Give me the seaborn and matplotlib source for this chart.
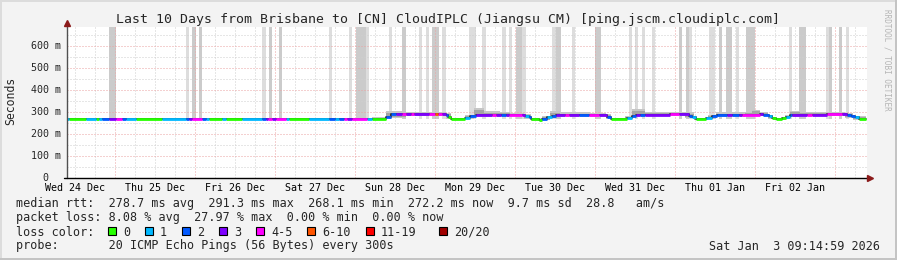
import numpy as np
import pandas as pd
import matplotlib
matplotlib.use("Agg")
import matplotlib.pyplot as plt
import seaborn as sns
from matplotlib.patches import Rectangle
from matplotlib.lines import Line2D
import matplotlib.transforms as mtransforms

# ---------------- data ----------------
title = "Last 10 Days from Brisbane to [CN] CloudIPLC (Jiangsu CM) [ping.jscm.cloudiplc.com]"
# hours since Wed 24 Dec 00:00
t_start, t_end = 9.6, 249.6
day_label_hours = [12, 36, 60, 84, 108, 132, 156, 180, 204, 228]
day_labels = ["Wed 24 Dec", "Thu 25 Dec", "Fri 26 Dec", "Sat 27 Dec", "Sun 28 Dec",
              "Mon 29 Dec", "Tue 30 Dec", "Wed 31 Dec", "Thu 01 Jan", "Fri 02 Jan"]
ytick_vals = [0, 100, 200, 300, 400, 500, 600]
ytick_labels = ["0", "100 m", "200 m", "300 m", "400 m", "500 m", "600 m"]

# median rtt segments (start hour, value in ms, loss class)
seg_start = [9.6, 10.2, 15.3, 18.3, 19.2, 20.1, 22.2, 24.3, 26.1, 27.3,
             30.3, 38.1, 45.3, 46.2, 47.1, 50.1, 51.3, 52.2, 56.1, 57.3,
             62.1, 68.1, 69.3, 69.9, 71.1, 72.3, 75.3, 76.2, 82.2, 88.2,
             90.0, 91.2, 92.7, 93.6, 95.1, 99.6, 101.1, 105.3, 106.8, 108.3,
             110.1, 111.3, 112.8, 113.7, 118.2, 120.0, 120.9, 122.1, 123.3, 123.9,
             124.8, 129.0, 130.5, 132.3, 137.1, 138.3, 139.8, 141.3, 142.2, 146.1,
             147.0, 148.2, 148.8, 151.2, 152.1, 153.6, 155.1, 156.3, 159.0, 160.2,
             163.2, 166.2, 169.2, 171.6, 172.8, 177.6, 179.1, 180.3, 181.5, 183.0,
             190.5, 193.2, 196.2, 197.1, 198.3, 201.3, 203.1, 204.6, 207.6, 209.1,
             211.2, 212.1, 217.5, 218.4, 220.2, 221.1, 222.3, 224.1, 225.3, 226.5,
             227.1, 231.6, 233.1, 237.6, 242.1, 243.6, 244.8, 246.0, 247.2]
seg_rtt = [268, 268, 268, 268, 268, 268, 268, 268, 268, 268,
           268, 268, 268, 268, 268, 268, 268, 268, 268, 268,
           268, 268, 268, 268, 268, 268, 268, 268, 268, 268,
           268, 268, 268, 268, 268, 268, 268, 279, 289, 289,
           289, 289, 289, 289, 289, 289, 289, 289, 286, 277,
           268, 272, 280, 286, 287, 287, 287, 287, 287, 287,
           281, 275, 268, 264, 270, 276, 282, 287, 287, 287,
           287, 287, 287, 279, 269, 274, 280, 285, 287, 288,
           289, 289, 281, 275, 268, 272, 280, 286, 288, 288,
           288, 288, 289, 287, 280, 273, 267, 272, 278, 284,
           288, 288, 288, 290, 290, 285, 280, 275, 269]
seg_loss = [1, 0, 1, 0, 1, 2, 3, 4, 2, 1,
            0, 1, 2, 3, 4, 2, 1, 0, 1, 0,
            1, 2, 3, 4, 3, 4, 1, 0, 1, 2,
            1, 2, 4, 3, 4, 1, 0, 2, 2, 3,
            4, 3, 4, 3, 4, 5, 4, 3, 2, 0,
            0, 1, 2, 3, 4, 3, 2, 3, 4, 3,
            1, 2, 0, 0, 2, 1, 2, 3, 4, 3,
            2, 4, 3, 2, 0, 1, 2, 3, 2, 3,
            4, 3, 2, 1, 0, 1, 2, 2, 3, 2,
            3, 4, 3, 2, 1, 0, 0, 0, 1, 2,
            3, 4, 3, 4, 3, 2, 2, 1, 0]
seg_last_end = 249.3

# smoke (spread of pings) : node hour, low, high
smoke_h = [9.6, 101.1, 105.3, 111.3, 123.3, 124.8, 129.0, 131.7, 134.7, 139.5,
           142.5, 146.7, 148.8, 152.1, 154.5, 157.5, 166.5, 171.3, 172.8, 177.0,
           179.1, 183.0, 195.0, 197.7, 201.9, 204.3, 213.0, 215.1, 217.5, 219.9,
           221.4, 225.0, 226.5, 229.5, 243.0, 245.4, 249.3]
smoke_lo = [266, 262, 272, 280, 270, 265, 268, 275, 278, 278,
            280, 268, 260, 262, 272, 278, 278, 268, 264, 268,
            275, 280, 272, 263, 268, 278, 280, 282, 280, 270,
            262, 268, 276, 280, 272, 265, 265]
smoke_hi = [271, 276, 306, 298, 296, 272, 285, 320, 303, 300,
            296, 290, 272, 280, 306, 298, 296, 290, 272, 282,
            314, 300, 298, 274, 288, 298, 298, 310, 298, 288,
            274, 288, 306, 298, 296, 280, 280]

# full-height smoke columns (start hour, end hour, shade 0 light / 1 darker)
bar_start = [22.2, 45.3, 47.1, 49.2, 68.1, 70.2, 73.2, 88.2, 94.2, 96.3,
             99.3, 106.2, 110.1, 115.2, 117.3, 119.1, 122.1, 130.2, 134.1, 140.1,
             142.2, 144.3, 146.1, 155.1, 156.3, 161.1, 168.0, 178.2, 180.0, 182.1,
             185.1, 193.2, 195.3, 196.2, 202.2, 205.2, 207.3, 210.3, 213.3, 226.2,
             229.2, 237.3, 238.2, 241.2, 243.3]
bar_end = [24.3, 46.2, 48.3, 50.1, 69.3, 71.1, 74.1, 89.1, 95.1, 99.3,
           100.2, 107.1, 111.3, 116.1, 118.2, 121.2, 123.3, 132.3, 135.3, 141.3,
           143.1, 146.1, 147.3, 156.3, 157.8, 162.0, 169.8, 179.1, 180.9, 183.0,
           186.0, 194.1, 196.2, 197.1, 204.0, 206.1, 209.1, 211.2, 216.0, 227.1,
           231.3, 238.2, 239.1, 242.1, 244.2]
bar_shade = [1, 0, 1, 1, 0, 1, 1, 0, 0, 1,
             0, 0, 1, 0, 0, 1, 0, 0, 0, 0,
             0, 1, 0, 0, 1, 0, 1, 0, 0, 0,
             0, 1, 1, 0, 0, 1, 1, 0, 1, 0,
             1, 0, 1, 1, 0]

loss_labels = ["0", "1", "2", "3", "4-5", "6-10", "11-19", "20/20"]
loss_colors = ["#26ff00", "#00b8ff", "#0059ff", "#7e00ff", "#ff00ff", "#ff5500", "#ff0000", "#a10000"]

line_rtt = "median rtt:  278.7 ms avg  291.3 ms max  268.1 ms min  272.2 ms now  9.7 ms sd  28.8   am/s"
line_loss = "packet loss: 8.08 % avg  27.97 % max  0.00 % min  0.00 % now"
line_color = "loss color:"
line_probe = "probe:       20 ICMP Echo Pings (56 Bytes) every 300s"
stamp = "Sat Jan  3 09:14:59 2026"

# ---------------- figure ----------------
sns.set_style("white")
plt.rcParams["font.family"] = ["DejaVu Sans Mono", "DejaVu Sans"]

W, H = 897, 260
fig = plt.figure(figsize=(W / 100, H / 100), dpi=100, facecolor="#f3f3f3")

def fx(x):
    return x / W

def fy(y):
    return 1 - y / H

ax = fig.add_axes([fx(67), fy(178), fx(800), 151 / H])
ax.set_facecolor("white")
ymax = 686
ax.set_xlim(t_start, t_end)
ax.set_ylim(0, ymax)
for s in ax.spines.values():
    s.set_visible(False)

# smoke columns
bs = np.array(bar_start)
be = np.array(bar_end)
shade_cols = ["#dddddd", "#cbcbcb"]
ax.bar(bs, 720 - 270, width=be - bs, bottom=270, align="edge",
       color=[shade_cols[s] for s in bar_shade], linewidth=0, zorder=1)

# grid
dots = (0, (1, 2))
for h in np.arange(0, 256, 6):
    if h <= t_start or h >= t_end:
        continue
    if h % 24 == 0:
        ax.axvline(h, color="#eba3a3", lw=0.72, ls=dots, zorder=2)
    else:
        ax.axvline(h, color="#cfcfcf", lw=0.72, ls=dots, zorder=2)
for v in range(50, 700, 50):
    if v % 100 == 0:
        ax.axhline(v, color="#eba3a3", lw=0.72, ls=dots, zorder=2)
    else:
        ax.axhline(v, color="#cfcfcf", lw=0.72, ls=dots, zorder=2)

# smoke band (outer light, inner darker)
lo = np.array(smoke_lo, float)
hi = np.array(smoke_hi, float)
ax.fill_between(smoke_h, lo, hi, step="post", color="#c6c6c6", linewidth=0, zorder=3)
mid = (lo + hi) / 2
ax.fill_between(smoke_h, lo + (mid - lo) * 0.4, hi - (hi - mid) * 0.55, step="post",
                color="#a4a4a4", linewidth=0, zorder=3)

# median line
seg_end = seg_start[1:] + [seg_last_end]
rows = []
for i, (a, b, v, c) in enumerate(zip(seg_start, seg_end, seg_rtt, seg_loss)):
    rows.append((a, v, c, i))
    rows.append((b, v, c, i))
df = pd.DataFrame(rows, columns=["h", "rtt", "loss", "seg"])
steps = pd.DataFrame({"h": seg_start + [seg_last_end], "rtt": seg_rtt + [seg_rtt[-1]]})
ax.step(steps["h"], steps["rtt"], where="post", color="#222222", lw=1.2, zorder=4)
sns.lineplot(data=df, x="h", y="rtt", hue="loss", units="seg", estimator=None,
             palette={i: c for i, c in enumerate(loss_colors)}, legend=False,
             lw=2.0, ax=ax, zorder=5, solid_capstyle="butt")
ax.set_xlabel("")
ax.set_ylabel("")

# ticks
ax.set_xticks(day_label_hours)
ax.set_xticklabels(day_labels, fontsize=7.2)
ax.tick_params(axis="x", length=0, pad=3.5, colors="black")
ax.set_yticks([])
ytr = mtransforms.blended_transform_factory(fig.transFigure, ax.transData)
for v, lab in zip(ytick_vals, ytick_labels):
    if lab.endswith("m"):
        fig.text(fx(61), v, lab, transform=ytr, ha="right", va="center", fontsize=7.2)
    else:
        fig.text(fx(45.5), v, lab, transform=ytr, ha="center", va="center", fontsize=7.2)

# axes lines with arrows
fig.add_artist(Line2D([fx(67), fx(67)], [fy(178), fy(24)], color="#505050", lw=1.0))
fig.add_artist(Line2D([fx(67)], [fy(23)], marker="^", markersize=4, color="#8b1a1a"))
fig.add_artist(Line2D([fx(64), fx(868)], [fy(178), fy(178)], color="black", lw=1.0))
fig.add_artist(Line2D([fx(870)], [fy(178)], marker=">", markersize=4, color="#8b1a1a"))

# texts
fig.text(fx(448), fy(19), title, ha="center", va="center", fontsize=9.5)
fig.text(fx(11), fy(101), "Seconds", rotation=90, ha="center", va="center", fontsize=8.3)
fig.text(fx(887), fy(60), "RRDTOOL / TOBI OETIKER", rotation=270, ha="center",
         va="center", fontsize=5.5, color="#b5b5b5")

fig.text(fx(16), fy(204), line_rtt, ha="left", va="center", fontsize=8.5)
fig.text(fx(16), fy(218), line_loss, ha="left", va="center", fontsize=8.5)
fig.text(fx(16), fy(232), line_color, ha="left", va="center", fontsize=8.5)
fig.text(fx(16), fy(246), line_probe, ha="left", va="center", fontsize=8.5)
fig.text(fx(880), fy(246), stamp, ha="right", va="center", fontsize=8.5)

box_x = [108, 145, 182, 219, 256, 307, 366, 439]
for bx, lab, col in zip(box_x, loss_labels, loss_colors):
    fig.add_artist(Rectangle((fx(bx), fy(235)), fx(8), 8 / H, facecolor=col,
                             edgecolor="black", lw=0.8, transform=fig.transFigure))
    fig.text(fx(bx + 15), fy(232), lab, ha="left", va="center", fontsize=8.5)

# frame (3d-ish border)
fig.add_artist(Rectangle((0, fy(2)), 1, 2 / H, facecolor="#dcdcdc", lw=0, transform=fig.transFigure))
fig.add_artist(Rectangle((0, 0), fx(2), 1, facecolor="#dcdcdc", lw=0, transform=fig.transFigure))
fig.add_artist(Rectangle((0, 0), 1, 2 / H, facecolor="#c4c4c4", lw=0, transform=fig.transFigure))
fig.add_artist(Rectangle((fx(895), 0), fx(2), 1, facecolor="#c4c4c4", lw=0, transform=fig.transFigure))

fig.savefig("out.png", dpi=100, facecolor=fig.get_facecolor())
